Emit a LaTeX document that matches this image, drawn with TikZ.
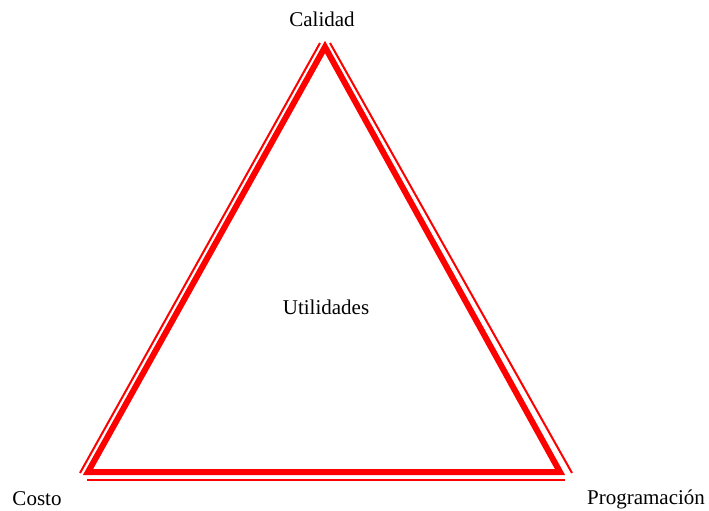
\documentclass[tikz,border=0pt]{standalone}
\usepackage{fontspec}
\setmainfont{Liberation Serif}
\begin{document}
\begin{tikzpicture}[x=1pt,y=-1pt,
  thick edge/.style={draw=red,line width=6pt,line join=miter},
  thin edge/.style={draw=red,line width=2pt},
  lab/.style={font=\fontsize{21}{24}\selectfont,inner sep=0pt}]
\useasboundingbox (0,0) rectangle (709,511);
\coordinate (A) at (325,47);
\coordinate (B) at (88,472);
\coordinate (C) at (560,472);
\draw[thick edge] (A) -- (B) -- (C) -- cycle;
% thin outer lines
\coordinate (L1) at (80,473);
\coordinate (L2) at (320,43);
\coordinate (R1) at (330,43);
\coordinate (R2) at (572,473);
\coordinate (B1) at (87,480);
\coordinate (B2) at (565,480);
\draw[thin edge] (L1) -- (L2);
\draw[thin edge] (R1) -- (R2);
\draw[thin edge] (B1) -- (B2);
\node[lab] (cal) at (322,19) {Calidad};
\node[lab] (cos) at (37,499) {Costo};
\node[lab] (pro) at (646,499) {Programación};
\node[lab] (uti) at (326,307) {Utilidades};
\end{tikzpicture}
\end{document}
